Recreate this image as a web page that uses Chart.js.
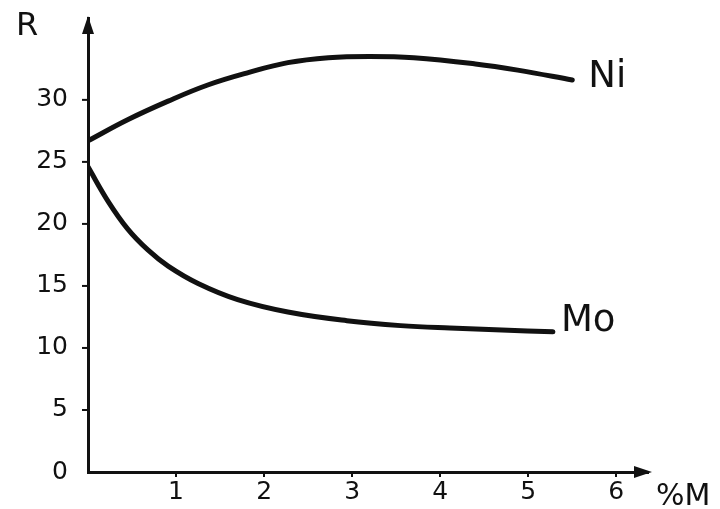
<!DOCTYPE html>
<html>
<head>
<meta charset="utf-8">
<script src="https://cdn.jsdelivr.net/npm/chart.js@4/dist/chart.umd.min.js"></script>
<style>
  html, body { margin: 0; padding: 0; background: #ffffff; }
  #wrap { width: 720px; height: 509px; position: relative; }
</style>
</head>
<body>
<div id="wrap"><canvas id="c"></canvas></div>
<script>
// ---- data ----
const niX = [0, 0.45, 0.91, 1.36, 1.82, 2.27, 2.73, 3.2, 3.7, 4.4, 4.88, 5.5];
const niY = [26.7, 28.4, 29.9, 31.2, 32.2, 33.0, 33.4, 33.5, 33.4, 32.9, 32.4, 31.6];
const moX = [0, 0.23, 0.45, 0.68, 0.91, 1.25, 1.7, 2.27, 2.94, 3.55, 4.11, 4.7, 5.28];
const moY = [24.6, 21.8, 19.6, 17.9, 16.6, 15.2, 13.9, 12.9, 12.2, 11.8, 11.6, 11.45, 11.3];
const xTickValues = [1, 2, 3, 4, 5, 6];
const yTickValues = [0, 5, 10, 15, 20, 25, 30];
const seriesNames = ['Ni', 'Mo'];
const yAxisTitle = 'R';
const xAxisTitle = '%M';

const toPts = (xs, ys) => xs.map((x, i) => ({ x: x, y: ys[i] }));
const FONT = '"DejaVu Sans", sans-serif';

const decor = {
  id: 'decor',
  afterDraw(chart) {
    const ctx = chart.ctx;
    const a = chart.chartArea;
    const xs = chart.scales.x, ys = chart.scales.y;
    ctx.save();
    ctx.fillStyle = '#111';
    ctx.strokeStyle = '#111';
    // y tick marks (left of axis)
    ctx.lineWidth = 2;
    yTickValues.forEach(v => {
      if (v === 0) return;
      const py = ys.getPixelForValue(v);
      ctx.beginPath();
      ctx.moveTo(a.left - 6, py);
      ctx.lineTo(a.left, py);
      ctx.stroke();
    });
    // arrow heads
    ctx.beginPath();
    ctx.moveTo(a.left, a.top - 2);
    ctx.lineTo(a.left - 6, a.top + 16);
    ctx.lineTo(a.left + 6, a.top + 16);
    ctx.closePath();
    ctx.fill();
    ctx.beginPath();
    ctx.moveTo(a.right + 4, a.bottom);
    ctx.lineTo(a.right - 14, a.bottom - 6);
    ctx.lineTo(a.right - 14, a.bottom + 6);
    ctx.closePath();
    ctx.fill();
    // axis titles
    ctx.textBaseline = 'alphabetic';
    ctx.textAlign = 'left';
    ctx.font = '32px ' + FONT;
    ctx.fillText(yAxisTitle, 16, 35);
    ctx.font = '30px ' + FONT;
    ctx.fillText(xAxisTitle, a.right + 8, 505);
    // series labels at line ends
    const ends = [[niX, niY, 16, 7], [moX, moY, 8, -1]];
    ctx.font = '37px ' + FONT;
    ends.forEach((d, i) => {
      const n = d[0].length - 1;
      const px = xs.getPixelForValue(d[0][n]);
      const py = ys.getPixelForValue(d[1][n]);
      ctx.fillText(seriesNames[i], px + d[2], py + d[3]);
    });
    ctx.restore();
  }
};

new Chart(document.getElementById('c'), {
  type: 'line',
  data: {
    datasets: [
      { label: seriesNames[0], data: toPts(niX, niY), borderColor: '#111', borderWidth: 5,
        pointRadius: 0, tension: 0.4, fill: false, borderCapStyle: 'round' },
      { label: seriesNames[1], data: toPts(moX, moY), borderColor: '#111', borderWidth: 5,
        pointRadius: 0, tension: 0.4, fill: false, borderCapStyle: 'round' }
    ]
  },
  options: {
    responsive: true,
    maintainAspectRatio: false,
    animation: false,
    layout: { padding: { left: 0, top: 18, right: 72, bottom: 0 } },
    plugins: { legend: { display: false }, tooltip: { enabled: false } },
    scales: {
      x: {
        type: 'linear', min: 0, max: 6.36,
        afterBuildTicks: (s) => { s.ticks = xTickValues.map(v => ({ value: v })); },
        afterFit: (s) => { s.height = 37; },
        border: { display: true, color: '#111', width: 3 },
        grid: { drawOnChartArea: false, drawTicks: true, tickLength: 5, color: '#111', lineWidth: 2 },
        ticks: { color: '#111', font: { family: FONT, size: 25 }, padding: 0, maxRotation: 0,
                 callback: (v) => String(v) }
      },
      y: {
        type: 'linear', min: 0, max: 36.6,
        afterBuildTicks: (s) => { s.ticks = yTickValues.map(v => ({ value: v })); },
        afterFit: (s) => { s.width = 88; },
        border: { display: true, color: '#111', width: 3 },
        grid: { drawOnChartArea: false, drawTicks: true, tickLength: 18, tickColor: 'rgba(0,0,0,0)', lineWidth: 2 },
        ticks: { color: '#111', font: { family: FONT, size: 25 }, padding: 2,
                 callback: (v) => String(v) }
      }
    }
  },
  plugins: [decor]
});
</script>
</body>
</html>
